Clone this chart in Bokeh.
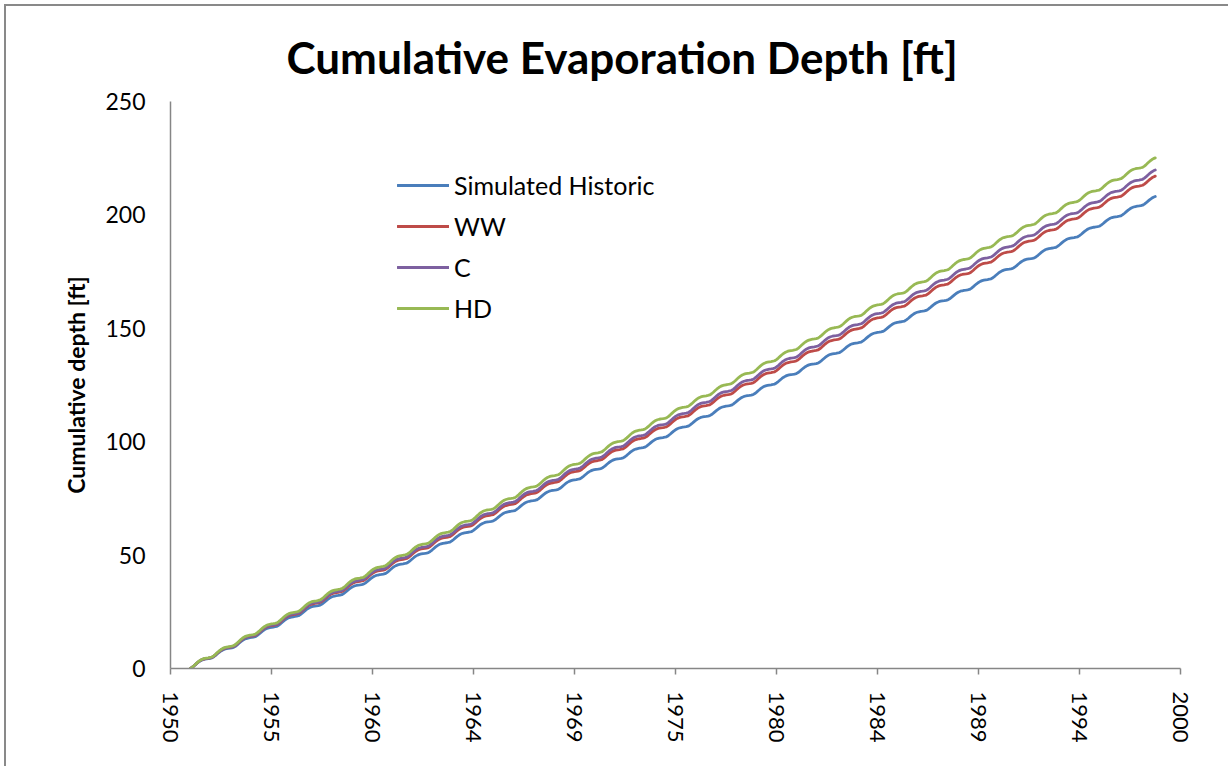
import numpy as np
from bokeh.plotting import figure
from bokeh.models import Range1d, FixedTicker, Legend, LegendItem
from bokeh.embed import file_html
from bokeh.resources import INLINE

# ---------------- data ----------------
tick_labels = ["1950", "1955", "1960", "1964", "1969", "1975",
               "1980", "1984", "1989", "1994", "2000"]
months_per_tick = 56          # months between labelled ticks on the axis
first_month = 11              # month index (from axis origin) of first record
n_months = 535                # number of monthly records after the start

# share of the annual evaporation falling in each month of the record year
monthly_share = [0.105, 0.135, 0.15, 0.145, 0.125, 0.10,
                 0.07, 0.045, 0.03, 0.025, 0.03, 0.04]

# annual evaporation depth [ft] per record year
hist_annual = [4.69, 4.61, 4.72, 4.58, 4.66, 4.68, 4.59, 4.65, 4.62, 4.70,
               4.60, 4.67, 4.63, 4.69, 4.57, 4.66, 4.64, 4.68, 4.61, 4.62,
               4.70, 4.59, 4.67, 4.65, 4.60, 4.66, 4.69, 4.58, 4.64, 4.67,
               4.62, 4.68, 4.59, 4.65, 4.66, 4.61, 4.69, 4.60, 4.64, 4.67,
               4.62, 4.65, 4.61, 4.66, 4.64]
ww_annual = [4.89, 4.81, 4.92, 4.78, 4.86, 4.88, 4.79, 4.85, 4.82, 4.90,
             4.80, 4.87, 4.83, 4.89, 4.77, 4.86, 4.84, 4.88, 4.81, 4.82,
             4.90, 4.79, 4.87, 4.85, 4.80, 4.86, 4.89, 4.78, 4.84, 4.87,
             4.82, 4.88, 4.79, 4.85, 4.86, 4.81, 4.89, 4.80, 4.84, 4.87,
             4.82, 4.85, 4.81, 4.86, 4.84]
c_annual = [4.95, 4.87, 4.98, 4.84, 4.92, 4.94, 4.85, 4.91, 4.88, 4.96,
            4.86, 4.93, 4.89, 4.95, 4.83, 4.92, 4.90, 4.94, 4.87, 4.88,
            4.96, 4.85, 4.93, 4.91, 4.86, 4.92, 4.95, 4.84, 4.90, 4.93,
            4.88, 4.94, 4.85, 4.91, 4.92, 4.87, 4.95, 4.86, 4.90, 4.93,
            4.88, 4.91, 4.87, 4.92, 4.90]
hd_annual = [5.07, 4.99, 5.10, 4.96, 5.04, 5.06, 4.97, 5.03, 5.00, 5.08,
             4.98, 5.05, 5.01, 5.07, 4.95, 5.04, 5.02, 5.06, 4.99, 5.00,
             5.08, 4.97, 5.05, 5.03, 4.98, 5.04, 5.07, 4.96, 5.02, 5.05,
             5.00, 5.06, 4.97, 5.03, 5.04, 4.99, 5.07, 4.98, 5.02, 5.05,
             5.00, 5.03, 4.99, 5.04, 5.02]

series_names = ["Simulated Historic", "WW", "C", "HD"]
series_annual = [hist_annual, ww_annual, c_annual, hd_annual]
series_colors = ["#4A7EBB", "#BE4B48", "#7D60A0", "#98B954"]


def cumulative(annual):
    inc = [annual[i // 12] * monthly_share[i % 12] for i in range(n_months)]
    return np.concatenate([[0.0], np.cumsum(inc)])


x = first_month + np.arange(n_months + 1)

# ---------------- figure ----------------
FONT = "Lato"
GRAY = "#868686"

p = figure(width=1224, height=762, output_backend="svg", toolbar_location=None,
           x_range=Range1d(0, months_per_tick * (len(tick_labels) - 1)),
           y_range=Range1d(0, 250),
           min_border_left=164, min_border_right=50,
           min_border_top=95, min_border_bottom=100)

# chart-area border: only its top and left edges fall inside the picture
p.styles = {"margin-left": "4px", "margin-top": "4px",
            "border-left": "2px solid #898989",
            "border-top": "2px solid #898989"}

p.title.text = "Cumulative Evaporation Depth [ft]"
p.title.text_font = FONT
p.title.text_font_style = "bold"
p.title.text_font_size = "44px"
p.title.text_color = "#000000"
p.title.align = "left"
p.title.offset = 116
p.title.standoff = 37

p.outline_line_color = None
p.xgrid.grid_line_color = None
p.ygrid.grid_line_color = None
p.background_fill_color = "white"
p.border_fill_color = "white"

renderers = []
for name, ann, col in zip(series_names, series_annual, series_colors):
    r = p.line(x, cumulative(ann), line_color=col, line_width=2.8,
               line_join="round", line_cap="round")
    renderers.append((name, r))

# x axis
xticks = [months_per_tick * i for i in range(len(tick_labels))]
p.xaxis.ticker = FixedTicker(ticks=xticks)
p.xaxis.major_label_overrides = {t: lab for t, lab in zip(xticks, tick_labels)}
p.xaxis.major_label_orientation = "vertical"
p.xaxis.major_label_text_font = FONT
p.xaxis.major_label_text_font_size = "22px"
p.xaxis.major_label_text_color = "#000000"
p.xaxis.axis_line_color = GRAY
p.xaxis.axis_line_width = 1.5
p.xaxis.major_tick_line_color = GRAY
p.xaxis.major_tick_line_width = 1.5
p.xaxis.major_tick_out = 6
p.xaxis.major_tick_in = 0
p.xaxis.minor_tick_line_color = None
p.xaxis.major_label_standoff = 17

# y axis
p.yaxis.ticker = FixedTicker(ticks=[0, 50, 100, 150, 200, 250])
p.yaxis.axis_label = "Cumulative depth [ft]"
p.yaxis.axis_label_text_font = FONT
p.yaxis.axis_label_text_font_style = "bold"
p.yaxis.axis_label_text_font_size = "23px"
p.yaxis.axis_label_text_color = "#000000"
p.yaxis.axis_label_standoff = 12
p.yaxis.major_label_text_font = FONT
p.yaxis.major_label_text_font_size = "23px"
p.yaxis.major_label_text_color = "#000000"
p.yaxis.axis_line_color = GRAY
p.yaxis.axis_line_width = 1.5
p.yaxis.major_tick_line_color = None
p.yaxis.major_tick_out = 0
p.yaxis.major_tick_in = 0
p.yaxis.minor_tick_line_color = None
p.yaxis.major_label_standoff = 25

legend = Legend(items=[LegendItem(label=n, renderers=[r]) for n, r in renderers],
                location=(227, 345), orientation="vertical")
legend.label_text_font = FONT
legend.label_text_font_size = "25px"
legend.label_text_color = "#000000"
legend.glyph_width = 52
legend.glyph_height = 20
legend.label_height = 20
legend.spacing = 11
legend.label_standoff = 5
legend.padding = 0
legend.margin = 0
legend.border_line_color = None
legend.background_fill_alpha = 0
p.add_layout(legend, "center")

open("out.html", "w").write(file_html(p, INLINE))
